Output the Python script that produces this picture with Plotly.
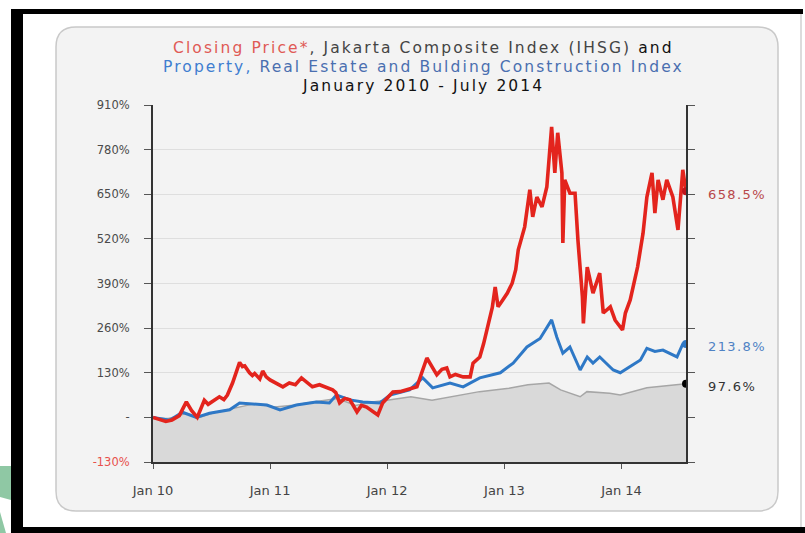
import plotly.graph_objects as go

# ---------------- data ----------------
red_dates = ["2010-01-01","2010-01-22","2010-02-10","2010-03-01","2010-03-24","2010-04-15","2010-05-01","2010-05-19",
 "2010-06-10","2010-06-22","2010-07-02","2010-07-27","2010-08-10","2010-08-21","2010-09-06","2010-09-28","2010-10-07","2010-10-14","2010-10-29",
 "2010-11-07","2010-11-14","2010-11-30","2010-12-09","2010-12-20","2011-01-01","2011-01-19","2011-02-10","2011-03-02","2011-03-21",
 "2011-04-09","2011-04-28","2011-05-13","2011-06-04","2011-06-26","2011-07-15","2011-07-25","2011-08-06","2011-08-22",
 "2011-09-07","2011-09-29","2011-10-13","2011-10-29","2011-11-14","2011-12-03","2011-12-18","2012-01-01",
 "2012-01-19","2012-02-10","2012-03-02","2012-03-21","2012-04-03","2012-04-18","2012-05-04","2012-05-12","2012-05-19",
 "2012-06-04","2012-06-20","2012-07-05","2012-07-15","2012-08-01","2012-08-25","2012-09-16","2012-09-25",
 "2012-10-16","2012-10-28","2012-11-08","2012-11-24","2012-12-03","2012-12-12","2012-12-25","2013-01-10","2013-01-25",
 "2013-02-05","2013-02-13","2013-03-05","2013-03-21","2013-03-30","2013-04-12","2013-04-28","2013-05-13","2013-05-28",
 "2013-06-07","2013-06-16","2013-06-29","2013-07-02","2013-07-08","2013-07-24","2013-08-09","2013-08-18",
 "2013-09-01","2013-09-04","2013-09-16","2013-10-04","2013-10-25","2013-11-05","2013-11-27","2013-12-12",
 "2014-01-04","2014-01-13","2014-01-28","2014-02-20","2014-03-09","2014-03-21","2014-04-06","2014-04-15",
 "2014-04-25","2014-05-10","2014-05-22","2014-06-10","2014-06-26","2014-07-11","2014-07-21"]
red_values = [0,-5,-12,-8,5,45,20,0,
 50,38,45,60,52,65,100,160,148,150,130,
 122,128,112,135,118,109,100,89,100,95,
 115,100,89,95,88,80,72,42,55,
 51,16,35,30,20,7,42,55,
 74,75,80,85,89,130,173,160,150,
 124,140,144,118,125,118,118,158,
 176,215,255,320,380,322,340,362,391,
 430,488,555,663,584,642,613,671,846,
 712,829,712,508,692,653,653,517,
 351,274,438,362,420,304,322,283,
 255,304,342,438,536,642,712,595,
 692,634,692,642,546,721,658.5]

blue_dates = ["2010-01-01","2010-02-23","2010-04-03","2010-05-16","2010-06-26","2010-08-05","2010-08-28","2010-09-28",
 "2010-11-10","2010-12-22","2011-02-01","2011-03-24","2011-05-25","2011-07-05","2011-07-27","2011-08-15","2011-09-07","2011-10-17",
 "2011-12-09","2012-01-10","2012-03-11","2012-04-21","2012-05-22","2012-07-15","2012-08-25","2012-10-16",
 "2012-12-19","2013-01-28","2013-03-12","2013-04-22","2013-05-28","2013-06-13","2013-07-02","2013-07-24",
 "2013-08-25","2013-09-16","2013-10-04","2013-10-25","2013-12-06","2013-12-28","2014-01-28","2014-03-01",
 "2014-03-21","2014-04-15","2014-05-10","2014-06-23","2014-07-11","2014-07-21"]
blue_values = [0,-8,15,0,12,18,22,42,
 40,36,22,36,45,42,65,58,51,45,
 42,65,80,115,86,100,89,115,
 130,158,205,230,284,234,187,205,
 138,176,158,176,138,130,147,167,
 201,192,196,176,214,213.8]

gray_dates = ["2010-01-01","2010-02-15","2010-04-15","2010-05-25","2010-07-15","2010-09-30","2010-11-15",
 "2011-01-15","2011-03-15","2011-05-15","2011-07-30","2011-09-25","2011-11-15","2012-01-01","2012-03-15",
 "2012-05-20","2012-07-15","2012-10-15","2013-01-15","2013-03-15","2013-05-20","2013-06-25","2013-08-25",
 "2013-09-15","2013-11-25","2013-12-28","2014-03-21","2014-05-15","2014-07-21"]
gray_values = [0,-5,12,0,15,30,40,
 30,35,45,55,35,45,50,60,
 50,60,75,85,95,100,80,60,
 75,70,65,86,92,97.6]

y_ticks = [-130, 0, 130, 260, 390, 520, 650, 780, 910]
y_tick_labels = ["<span style='color:#e8504c'>-130%</span>", "-", "130%", "260%", "390%", "520%", "650%", "780%", "910%"]
x_ticks = ["2010-01-01", "2011-01-01", "2012-01-01", "2013-01-01", "2014-01-01"]
x_tick_labels = ["Jan 10", "Jan 11", "Jan 12", "Jan 13", "Jan 14"]
x_range = ["2010-01-01", "2014-07-21"]
y_range = [-130, 910]

# ---------------- geometry helpers ----------------
W, H = 805, 533
L, R, T, B = 153, 686, 105, 462


def px(x):
    return (x - L) / (R - L)


def py(y):
    return (B - y) / (B - T)


FONT = "DejaVu Sans"

fig = go.Figure()

# gray IHSG area down to the axis floor
fig.add_trace(go.Scatter(x=gray_dates, y=[y_range[0]] * len(gray_dates), mode="lines",
                         line=dict(width=0, color="rgba(0,0,0,0)"), hoverinfo="skip", showlegend=False))
fig.add_trace(go.Scatter(x=gray_dates, y=gray_values, mode="lines", fill="tonexty",
                         fillcolor="#d9d9d9", line=dict(color="#a6a6a6", width=1.5), showlegend=False))
fig.add_trace(go.Scatter(x=blue_dates, y=blue_values, mode="lines",
                         line=dict(color="#2e78c6", width=3), showlegend=False))
fig.add_trace(go.Scatter(x=red_dates, y=red_values, mode="lines",
                         line=dict(color="#e3241d", width=3.6), showlegend=False))
# end markers
fig.add_trace(go.Scatter(x=[gray_dates[-1]], y=[gray_values[-1]], mode="markers",
                         marker=dict(color="#000000", size=8), showlegend=False))
fig.add_trace(go.Scatter(x=[blue_dates[-1]], y=[blue_values[-1]], mode="markers",
                         marker=dict(color="#2e78c6", size=8), showlegend=False))
fig.add_trace(go.Scatter(x=[red_dates[-1]], y=[red_values[-1]], mode="markers",
                         marker=dict(color="#c0141a", size=8), showlegend=False))

shapes = []
# rounded light panel
x0, x1, y0, y1, r = 56, 778, 27, 511, 20


def P(x, y):
    return f"{px(x):.5f},{py(y):.5f}"


path = (f"M{P(x0 + r, y0)} L{P(x1 - r, y0)} Q{P(x1, y0)} {P(x1, y0 + r)} "
        f"L{P(x1, y1 - r)} Q{P(x1, y1)} {P(x1 - r, y1)} L{P(x0 + r, y1)} "
        f"Q{P(x0, y1)} {P(x0, y1 - r)} L{P(x0, y0 + r)} Q{P(x0, y0)} {P(x0 + r, y0)} Z")
shapes.append(dict(type="path", xref="paper", yref="paper", path=path, fillcolor="#f3f3f3",
                   line=dict(color="#c9c9c9", width=1.5), layer="below"))
# black photo frame
for (a, b, c, d) in [(11, 9, 803, 14), (11, 9, 23, 533), (11, 527, 805, 533)]:
    shapes.append(dict(type="rect", xref="paper", yref="paper", x0=px(a), x1=px(c), y0=py(d), y1=py(b),
                       fillcolor="#000000", line=dict(width=0), layer="above"))
shapes.append(dict(type="line", xref="paper", yref="paper", x0=px(801), x1=px(801), y0=py(14), y1=py(527),
                   line=dict(color="#d0d0d0", width=1.5), layer="above"))
# green fragment at bottom-left edge
shapes.append(dict(type="path", xref="paper", yref="paper",
                   path=f"M{P(0, 466)} L{P(11, 466)} L{P(11, 500)} L{P(0, 497)} Z",
                   fillcolor="#8fc8a4", line=dict(width=0), layer="above"))
shapes.append(dict(type="path", xref="paper", yref="paper",
                   path=f"M{P(0, 512)} L{P(6, 533)} L{P(0, 533)} Z",
                   fillcolor="#8fc8a4", line=dict(width=0), layer="above"))

annotations = []
LS = "letter-spacing:2.1px;"
title_lines = [
    f"<span style='{LS}color:#e05a55'>Closing Price*</span><span style='{LS}color:#444'>, Jakarta Composite Index (IHSG) </span><span style='{LS}color:#111'>and</span>",
    f"<span style='{LS}color:#3f7ed0'>Property, </span><span style='{LS}color:#4a6fb0'>Real Estate and Bulding Construction Index</span>",
    f"<span style='{LS}color:#111'>January 2010 - July 2014</span>",
]
for i, t in enumerate(title_lines):
    annotations.append(dict(text=t, xref="paper", yref="paper", x=px(423), y=py(48 + 19 * i),
                            xanchor="center", yanchor="middle", showarrow=False,
                            font=dict(family=FONT, size=15.5, color="#333")))
end_labels = [("658.5%", red_values[-1], "#b8474a"), ("213.8%", blue_values[-1], "#4f82c4"),
              ("97.6%", gray_values[-1], "#333333")]
for txt, v, col in end_labels:
    annotations.append(dict(text=f"<span style='letter-spacing:1.4px'>{txt}</span>", xref="paper", yref="y",
                            x=px(706), y=v, xanchor="left",
                            yanchor="middle", showarrow=False, yshift=-3,
                            font=dict(family=FONT, size=13, color=col)))

fig.update_layout(
    width=W, height=H,
    margin=dict(l=L, r=W - R, t=T, b=H - B, pad=0),
    paper_bgcolor="#ffffff", plot_bgcolor="rgba(0,0,0,0)",
    shapes=shapes, annotations=annotations, showlegend=False,
    xaxis=dict(type="date", range=x_range, tickvals=x_ticks, ticktext=x_tick_labels,
               showgrid=False, zeroline=False, showline=True, linecolor="#333", linewidth=2,
               ticks="outside", ticklen=5, tickcolor="#555", tickwidth=1,
               tickfont=dict(family=FONT, size=13, color="#444"), ticklabelstandoff=10),
    yaxis=dict(range=y_range, tickvals=y_ticks, ticktext=y_tick_labels,
               showgrid=True, gridcolor="#dedede", gridwidth=1, zeroline=False,
               showline=True, linecolor="#333", linewidth=2, mirror="ticks",
               ticks="outside", ticklen=7, tickcolor="#555", tickwidth=1,
               tickfont=dict(family=FONT, size=11.5, color="#4a4a4a"), ticklabelstandoff=12),
)

fig.write_html("out.html")
